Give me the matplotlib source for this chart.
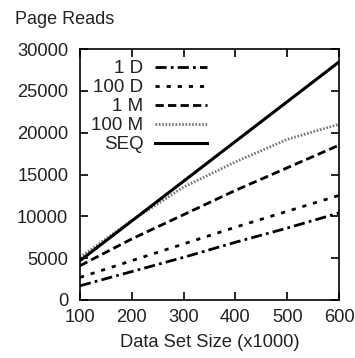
import matplotlib
matplotlib.use("Agg")
import matplotlib.pyplot as plt

plt.rcParams['font.family'] = ['Liberation Sans', 'DejaVu Sans']

sizes = [100, 200, 300, 400, 500, 600]
reads_1d = [1700, 3400, 5100, 6900, 8600, 10400]
reads_100d = [2700, 4700, 6700, 8700, 10600, 12500]
reads_1m = [4100, 7300, 10200, 13100, 15800, 18500]
reads_100m = [5100, 9500, 13500, 16500, 19200, 21000]
reads_seq = [4700, 9450, 14200, 18950, 23700, 28450]

txt = '#222222'

fig = plt.figure(figsize=(3.55, 3.58), dpi=100)
ax = fig.add_axes([80 / 355, 1 - 300 / 358, 259 / 355, 251 / 358])

ax.plot(sizes, reads_1d, color='black', lw=2, ls=(0, (4, 1.5, 1, 1.5)), label='1 D')
ax.plot(sizes, reads_100d, color='black', lw=2, ls=(0, (1.5, 2.5)), label='100 D')
ax.plot(sizes, reads_1m, color='black', lw=2, ls=(0, (3, 1.5)), label='1 M')
ax.plot(sizes, reads_100m, color='#777777', lw=2, ls=(0, (0.6, 0.6)), label='100 M')
ax.plot(sizes, reads_seq, color='black', lw=2.2, label='SEQ')

ax.set_xlim(100, 600)
ax.set_ylim(0, 30000)
ax.set_xticks(sizes)
ax.set_yticks(range(0, 30001, 5000))
ax.tick_params(direction='in', top=True, right=True, length=6, width=1.2,
               labelcolor=txt, labelsize=13.2)
ax.tick_params(axis='y', pad=8.5)
ax.tick_params(axis='x', pad=6.5)
for s in ax.spines.values():
    s.set_linewidth(1.2)

ax.set_xlabel('Data Set Size (x1000)', fontsize=13.2, color=txt, labelpad=6)
fig.text(15 / 355, 1 - 20 / 358, 'Page Reads', fontsize=13, color=txt,
         va='center', ha='left')

leg = ax.legend(loc='upper left', frameon=False, markerfirst=False, fontsize=13.5,
                handlelength=2.8, handletextpad=0.6, labelspacing=0.1,
                borderaxespad=0.2, bbox_to_anchor=(0.0, 1.0))
for t in leg.get_texts():
    t.set_ha('right')
    t.set_color(txt)
leg._legend_box.align = 'right'

fig.savefig('out.png', dpi=100)
